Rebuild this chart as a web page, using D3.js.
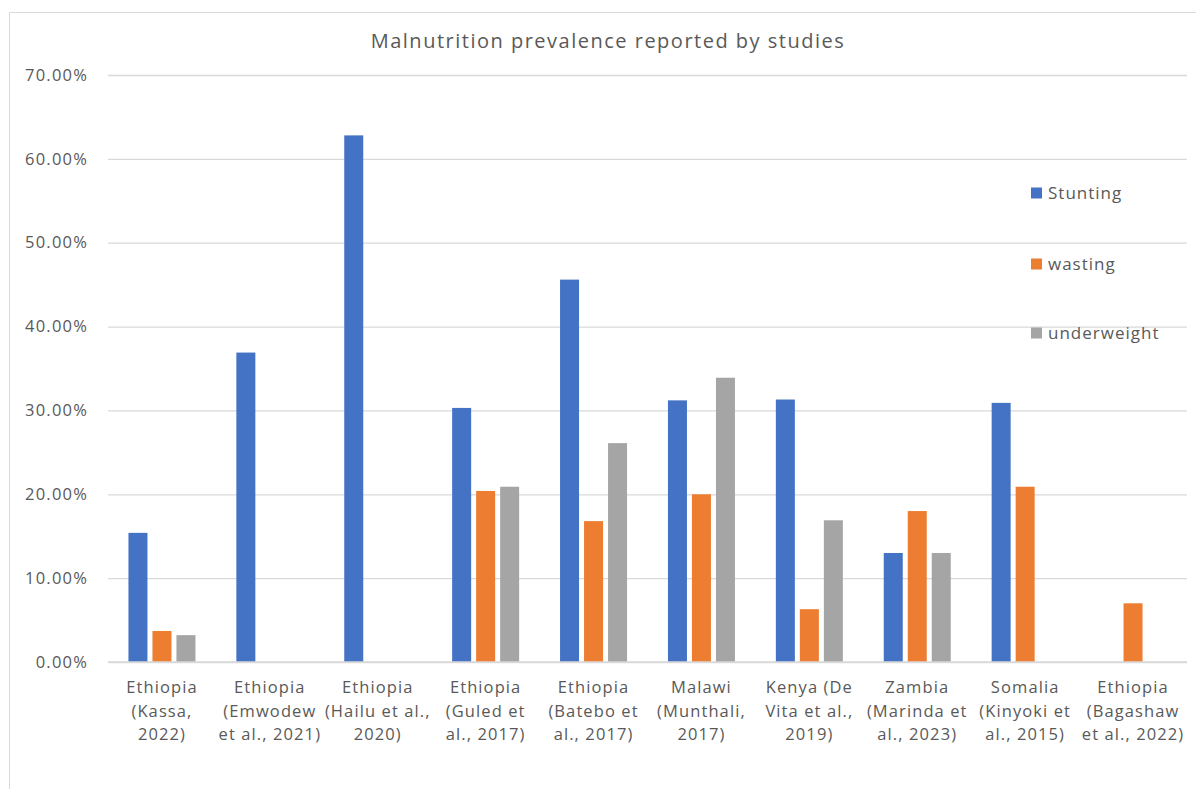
<!DOCTYPE html>
<html>
<head>
<meta charset="utf-8">
<script src="https://cdn.jsdelivr.net/npm/d3@7"></script>
<style>
  html, body { margin: 0; padding: 0; background: #fff; }
  svg { display: block; font-family: "Open Sans", "Noto Sans", sans-serif; }
</style>
</head>
<body>
<svg id="chart" width="1196" height="789"></svg>
<script>
// Study labels, one entry per line of the category label
const studies = [
  ["Ethiopia", "(Kassa,", "2022)"],
  ["Ethiopia", "(Emwodew", "et al., 2021)"],
  ["Ethiopia", "(Hailu et al.,", "2020)"],
  ["Ethiopia", "(Guled et", "al., 2017)"],
  ["Ethiopia", "(Batebo et", "al., 2017)"],
  ["Malawi", "(Munthali,", "2017)"],
  ["Kenya (De", "Vita et al.,", "2019)"],
  ["Zambia", "(Marinda et", "al., 2023)"],
  ["Somalia", "(Kinyoki et", "al., 2015)"],
  ["Ethiopia", "(Bagashaw", "et al., 2022)"]
];

const seriesNames = ["Stunting", "wasting", "underweight"];
const seriesColors = ["#4472c4", "#ed7d31", "#a5a5a5"];

// Prevalence values (fractions); null = not reported
const stunting    = [0.154, 0.369, 0.628, 0.303, 0.456, 0.312, 0.313, 0.130, 0.309, null];
const wasting     = [0.037, null,  null,  0.204, 0.168, 0.200, 0.063, 0.180, 0.209, 0.070];
const underweight = [0.032, null,  null,  0.209, 0.261, 0.339, 0.169, 0.130, null,  null];

const yTicks = [0, 0.1, 0.2, 0.3, 0.4, 0.5, 0.6, 0.7];

const svg = d3.select("#chart");
const W = 1196, H = 789;
const plot = { left: 108, right: 1187, top: 75, bottom: 662 };
const textColor = "#595959";

// Chart frame
svg.append("path")
  .attr("d", `M9.5,${H} V12.5 H${W}`)
  .attr("fill", "none")
  .attr("stroke", "#d9d9d9")
  .attr("stroke-width", 1);

// Title
svg.append("text")
  .attr("x", 608).attr("y", 48)
  .attr("text-anchor", "middle")
  .attr("font-size", 20)
  .attr("letter-spacing", 1.5)
  .attr("fill", textColor)
  .text("Malnutrition prevalence reported by studies");

const x0 = d3.scaleBand()
  .domain(d3.range(studies.length))
  .range([plot.left, plot.right])
  .paddingInner(0).paddingOuter(0);

const y = d3.scaleLinear().domain([0, 0.7]).range([plot.bottom, plot.top]);

// Bars within a category: width ~19, step ~24
const step = 24, barW = 19;
const x1 = i => x0.bandwidth() / 2 + (i - 1) * step - barW / 2;

// Gridlines + y labels
const yAxis = d3.axisLeft(y)
  .tickValues(yTicks)
  .tickSize(-(plot.right - plot.left))
  .tickPadding(20)
  .tickFormat(d3.format(".2%"));

const gy = svg.append("g")
  .attr("transform", `translate(${plot.left},0)`)
  .call(yAxis);
gy.select(".domain").remove();
gy.selectAll(".tick line").attr("stroke", "#d9d9d9").attr("stroke-width", 1.3);
gy.selectAll(".tick text")
  .attr("fill", textColor)
  .attr("font-size", 16.5)
  .attr("letter-spacing", 1.2)
  .attr("font-family", "\"Open Sans\", sans-serif");

// Bars
const series = [stunting, wasting, underweight];
series.forEach((vals, si) => {
  svg.append("g")
    .selectAll("rect")
    .data(vals.map((v, i) => ({ v, i })).filter(d => d.v !== null))
    .join("rect")
    .attr("x", d => x0(d.i) + x1(si))
    .attr("y", d => y(d.v))
    .attr("width", barW)
    .attr("height", d => y(0) - y(d.v))
    .attr("fill", seriesColors[si]);
});

// Bottom axis line (redrawn on top of bars)
svg.append("line")
  .attr("x1", plot.left).attr("x2", plot.right)
  .attr("y1", y(0)).attr("y2", y(0))
  .attr("stroke", "#d9d9d9").attr("stroke-width", 1.3);

// Category labels
const gx = svg.append("g");
studies.forEach((lines, i) => {
  const cx = x0(i) + x0.bandwidth() / 2;
  const t = gx.append("text")
    .attr("x", cx)
    .attr("y", 693)
    .attr("text-anchor", "middle")
    .attr("font-size", 16.5)
    .attr("letter-spacing", 1.1)
    .attr("fill", textColor);
  lines.forEach((ln, k) => {
    t.append("tspan")
      .attr("x", cx)
      .attr("dy", k === 0 ? 0 : 23.5)
      .text(ln);
  });
});

// Legend
const legendY = [193, 264, 333];
seriesNames.forEach((name, i) => {
  const g = svg.append("g").attr("transform", `translate(1031,${legendY[i]})`);
  g.append("rect")
    .attr("x", 0).attr("y", -5.5)
    .attr("width", 11).attr("height", 11)
    .attr("fill", seriesColors[i]);
  g.append("text")
    .attr("x", 17).attr("y", 6)
    .attr("font-size", 17)
    .attr("letter-spacing", 1.0)
    .attr("fill", textColor)
    .text(name);
});
</script>
</body>
</html>
